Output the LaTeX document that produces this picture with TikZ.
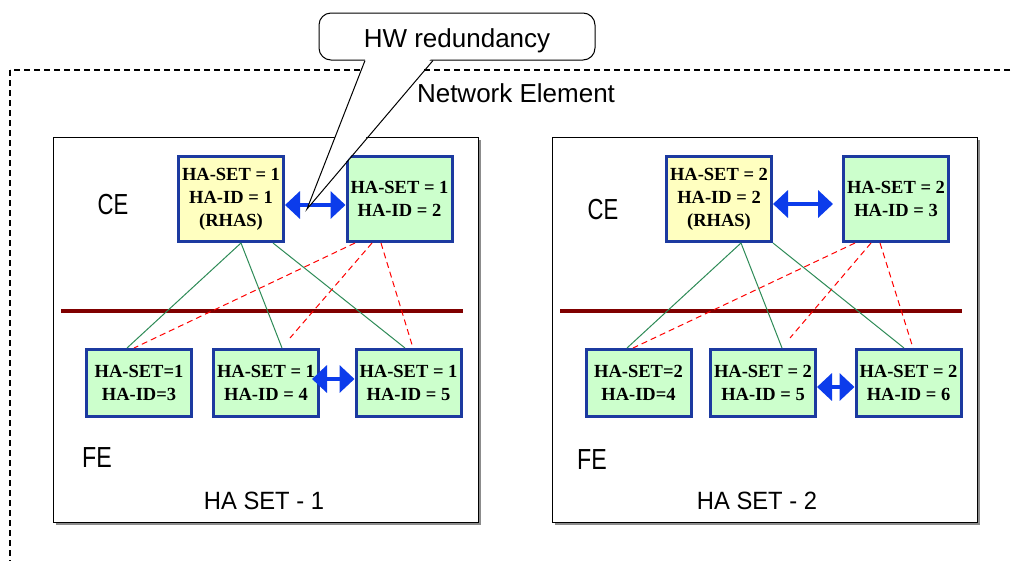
\documentclass[tikz,border=0pt]{standalone}
\usepackage{fontspec}
\setmainfont{Liberation Serif}
\newfontfamily\lsans{Liberation Sans}
\usetikzlibrary{arrows.meta}

\definecolor{boxblue}{RGB}{28,58,160}
\definecolor{arrowblue}{RGB}{12,60,235}
\definecolor{rhasfill}{RGB}{255,255,192}
\definecolor{nodefill}{RGB}{204,255,204}
\definecolor{linkgreen}{RGB}{46,139,87}
\definecolor{barred}{RGB}{128,0,0}

\begin{document}
\begin{tikzpicture}[x=1pt,y=-1pt,
  nedash/.style={draw=black,line width=1.2pt,dash pattern=on 6pt off 4pt},
  setbox/.style={draw=black,fill=white,line width=0.9pt,minimum width=425pt,minimum height=385pt,inner sep=0pt},
  setshadow/.style={fill=black!45},
  label/.style={font=\lsans\fontsize{25}{30}\selectfont,anchor=base,inner sep=0pt},
  layer/.style={font=\lsans\fontsize{29}{34}\selectfont,anchor=base,inner sep=0pt},
  cebox/.style={draw=boxblue,line width=3pt,minimum width=105pt,minimum height=85pt,inner sep=0pt,align=center,
     font=\bfseries\fontsize{18.5}{23}\selectfont},
  febox/.style={cebox,minimum height=67pt,fill=nodefill},
  rhas/.style={cebox,fill=rhasfill},
  standby/.style={cebox,fill=nodefill},
  hwlink/.style={draw=arrowblue,line width=4.5pt,{Triangle[length=15pt,width=27pt]}-{Triangle[length=15pt,width=27pt]}},
  active/.style={draw=linkgreen,line width=1pt},
  backup/.style={draw=red,line width=1pt,dash pattern=on 6pt off 4pt},
  bar/.style={draw=barred,line width=4pt},
  callout/.style={draw=black,fill=white,line width=1pt}
]
\useasboundingbox (0,0) rectangle (1011,560);
\clip (0,0) rectangle (1011,560);

% Network element frame (runs off the right and bottom edges)
\draw[nedash] (10,70) rectangle (1040,590);
\node[label,font=\lsans\fontsize{26}{30}\selectfont] (ne) at (516,102) {Network Element};

% HA set containers with drop shadow
\fill[setshadow] (56,140) rectangle (481,525);
\node[setbox] (set1) at (265.5,329.5) {};
\fill[setshadow] (555,140) rectangle (980,525);
\node[setbox] (set2) at (764.5,329.5) {};

% Set labels
\node[layer] (ce1) at (113,214) {\scalebox{0.76}[1]{CE}};
\node[layer] (fe1) at (97,467) {\scalebox{0.8}[1]{FE}};
\node[label] (hs1) at (264,509) {\scalebox{0.95}[1]{HA SET - 1}};
\node[layer] (ce2) at (603,219) {\scalebox{0.76}[1]{CE}};
\node[layer] (fe2) at (592,469) {\scalebox{0.8}[1]{FE}};
\node[label] (hs2) at (757,509) {\scalebox{0.95}[1]{HA SET - 2}};

% CE / FE separators
\draw[bar] (61,311) -- (463,311);
\draw[bar] (560,311) -- (962,311);

% ---- HA set 1 ----
\node[rhas]    (y1) at (231,199) {HA-SET = 1\\HA-ID = 1\\(RHAS)};
\node[standby] (g1) at (399.5,199) {HA-SET = 1\\HA-ID = 2};
\node[febox]   (a1) at (139,383) {HA-SET=1\\HA-ID=3};
\node[febox]   (b1) at (266,383) {HA-SET = 1\\HA-ID = 4};
\node[febox]   (c1) at (408.5,383) {HA-SET = 1\\HA-ID = 5};

\draw[active] ([xshift=10pt]y1.south) -- ([xshift=-12pt]a1.north);
\draw[active] ([xshift=10pt]y1.south) -- ([xshift=16pt]b1.north);
\draw[active] ([xshift=42pt]y1.south) -- ([xshift=-3.5pt]c1.north);
\coordinate (r1) at ([xshift=24pt,yshift=10pt]b1.north);
\draw[backup] ([xshift=-44.5pt]g1.south) -- ([xshift=-5pt]a1.north);
\draw[backup] ([xshift=-27.5pt]g1.south) -- (r1);
\draw[backup] ([xshift=-18.5pt]g1.south) -- ([xshift=4.5pt]c1.north);

\draw[hwlink] ([yshift=-6pt]y1.east) -- ([yshift=-6pt]g1.west);
\draw[hwlink] ([xshift=-8pt,yshift=4pt]b1.east) -- ([yshift=4pt]c1.west);

% ---- HA set 2 ----
\node[rhas]    (y2) at (719,199) {HA-SET = 2\\HA-ID = 2\\(RHAS)};
\node[standby] (g2) at (896,199) {HA-SET = 2\\HA-ID = 3};
\node[febox]   (a2) at (638.5,383) {HA-SET=2\\HA-ID=4};
\node[febox]   (b2) at (763,383) {HA-SET = 2\\HA-ID = 5};
\node[febox]   (c2) at (908.5,383) {HA-SET = 2\\HA-ID = 6};

\draw[active] ([xshift=22pt]y2.south) -- ([xshift=-11.5pt]a2.north);
\draw[active] ([xshift=22pt]y2.south) -- ([xshift=19pt]b2.north);
\draw[active] (y2.south east) -- ([xshift=-4.5pt]c2.north);
\coordinate (r2) at ([xshift=27pt,yshift=10pt]b2.north);
\draw[backup] ([xshift=-41pt]g2.south) -- ([xshift=-5.5pt]a2.north);
\draw[backup] ([xshift=-25pt]g2.south) -- (r2);
\draw[backup] ([xshift=-16pt]g2.south) -- ([xshift=4.5pt]c2.north);

\draw[hwlink] ([yshift=-5pt]y2.east) -- ([xshift=-9pt,yshift=-5pt]g2.west);
\draw[hwlink] ([yshift=-4pt]b2.east) -- ([yshift=-4pt]c2.west);

% ---- Callout ----
\node[callout,rounded corners=12pt,minimum width=276pt,minimum height=47pt,inner sep=0pt] (hw) at (457,36.5) {};
\node[label,font=\lsans\fontsize{26}{30}\selectfont] (hwtext) at (457,47) {HW redundancy};
\coordinate (tip) at (307,209);
\fill[white] ([xshift=-91pt,yshift=3pt]hw.south) -- (tip) -- ([xshift=-25pt,yshift=3pt]hw.south) -- cycle;
\draw[line width=1pt] ([xshift=-92pt]hw.south) -- (tip) -- ([xshift=-24pt]hw.south);
\end{tikzpicture}
\end{document}
